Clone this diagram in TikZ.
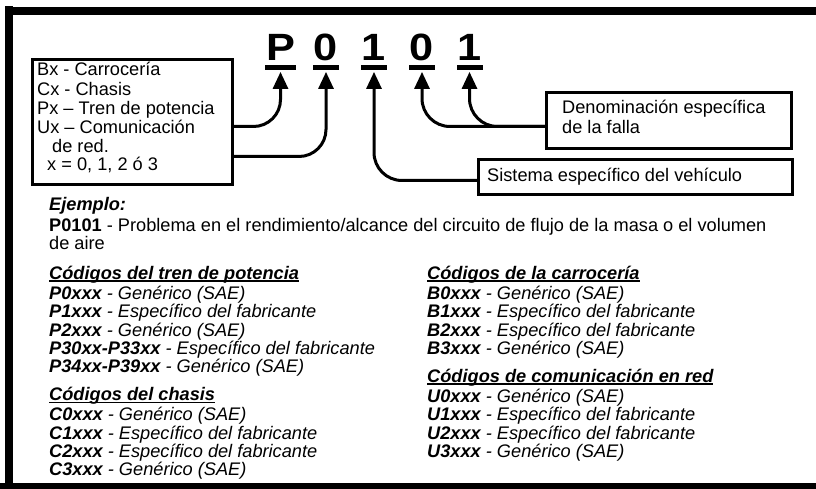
\documentclass[tikz,border=0pt]{standalone}
\usepackage{fontspec}
\setmainfont{Liberation Sans}
\newfontfamily\bigfont{Liberation Sans}[FakeStretch=1.14]
\usetikzlibrary{arrows.meta}
\newcommand\myul[1]{\setbox0\hbox{#1}\rlap{\rule[-2.8pt]{\wd0}{1.6pt}}\box0}
\newcommand\bi[1]{{\bfseries\itshape #1}}
\tikzset{
  box/.style={draw, line width=3pt, inner sep=0pt, anchor=north west},
  conn/.style={line width=3pt, -{Triangle[length=17pt,width=15pt]}},
  lbl/.style={inner sep=0pt, anchor=base west, font=\fontsize{18.2}{18.5}\selectfont},
  big/.style={inner sep=0pt, anchor=base, font=\bigfont\fontsize{38}{40}\selectfont\bfseries},
  uline/.style={fill, inner sep=0pt, minimum height=5pt, anchor=north},
}
\begin{document}
\begin{tikzpicture}[x=1pt,y=-1pt]
\useasboundingbox (0,0) rectangle (816,489);
% frame
\fill (5,6) rectangle (13,489);
\fill (5,7) rectangle (816,15);
\fill (0,483) rectangle (816,489);
% big code
\node[big] (lP) at (280.5,60.5) {P};
\node[big] (l0a) at (326,60.5) {0};
\node[big] (l1a) at (374,60.5) {1};
\node[big] (l0b) at (422,60.5) {0};
\node[big] (l1b) at (469.5,60.5) {1};
\node[uline, minimum width=31pt] (uP) at (280.5,64.5) {};
\node[uline, minimum width=26pt] (u0a) at (326,64.5) {};
\node[uline, minimum width=26pt] (u1a) at (374,64.5) {};
\node[uline, minimum width=26pt] (u0b) at (422,64.5) {};
\node[uline, minimum width=26pt] (u1b) at (469.5,64.5) {};
% boxes
\node[box, minimum width=200pt, minimum height=125pt] (cat) at (31,58) {};
\node[box, minimum width=245pt, minimum height=56pt] (fal) at (545,91) {};
\node[box, minimum width=314pt, minimum height=35pt] (sis) at (477,158) {};
% box texts
\node[lbl] (c1) at (37,76) {Bx - Carrocería};
\node[lbl] (c2) at (37,95.5) {Cx - Chasis};
\node[lbl] (c3) at (37,115) {Px – Tren de potencia};
\node[lbl] (c4) at (37,134) {Ux – Comunicación};
\node[lbl] (c5) at (52,153) {de red.};
\node[lbl] (c6) at (47,171) {x = 0, 1, 2 ó 3};
\node[lbl] (f1) at (562,114) {Denominación específica};
\node[lbl] (f2) at (562,134) {de la falla};
\node[lbl] (s1) at (487,182) {Sistema específico del vehículo};
% connectors
\draw[conn, rounded corners=27pt] ([yshift=-4.5pt]cat.east) -| ([yshift=-2pt]uP.south);
\draw[conn, rounded corners=27pt] ([yshift=-34.5pt]cat.east) -| ([yshift=-2pt]u0a.south);
\draw[conn, rounded corners=28pt] ([yshift=-3.5pt]sis.west) -| ([yshift=-2pt]u1a.south);
\draw[conn, rounded corners=28pt] ([yshift=-6pt]fal.west) -| ([yshift=-2pt]u0b.south);
\draw[conn, rounded corners=28pt] ([yshift=-6pt]fal.west) -| ([yshift=-2pt]u1b.south);
% example
\node[lbl] (e1) at (49,211) {\bi{Ejemplo:}};
\node[lbl] (e2) at (49,231) {\textbf{P0101} - Problema en el rendimiento/alcance del circuito de flujo de la masa o el volumen};
\node[lbl] (e3) at (49,249) {de aire};
% left column
\node[lbl] (h1) at (49,279) {\myul{\bi{Códigos del tren de potencia}}};
\node[lbl] (p0) at (49,299) {\bi{P0xxx} \textit{- Genérico (SAE)}};
\node[lbl] (p1) at (49,317.5) {\bi{P1xxx} \textit{- Específico del fabricante}};
\node[lbl] (p2) at (49,336) {\bi{P2xxx} \textit{- Genérico (SAE)}};
\node[lbl] (p3) at (49,354) {\bi{P30xx-P33xx} \textit{- Específico del fabricante}};
\node[lbl] (p4) at (49,372.5) {\bi{P34xx-P39xx} \textit{- Genérico (SAE)}};
\node[lbl] (h2) at (49,400.5) {\myul{\bi{Códigos del chasis}}};
\node[lbl] (k0) at (49,420.5) {\bi{C0xxx} \textit{- Genérico (SAE)}};
\node[lbl] (k1) at (49,439) {\bi{C1xxx} \textit{- Específico del fabricante}};
\node[lbl] (k2) at (49,457) {\bi{C2xxx} \textit{- Específico del fabricante}};
\node[lbl] (k3) at (49,475.5) {\bi{C3xxx} \textit{- Genérico (SAE)}};
% right column
\node[lbl] (h3) at (427,279) {\myul{\bi{Códigos de la carrocería}}};
\node[lbl] (b0) at (427,299) {\bi{B0xxx} \textit{- Genérico (SAE)}};
\node[lbl] (b1) at (427,317.5) {\bi{B1xxx} \textit{- Específico del fabricante}};
\node[lbl] (b2) at (427,336) {\bi{B2xxx} \textit{- Específico del fabricante}};
\node[lbl] (b3) at (427,354) {\bi{B3xxx} \textit{- Genérico (SAE)}};
\node[lbl] (h4) at (427,382) {\myul{\bi{Códigos de comunicación en red}}};
\node[lbl] (u0) at (427,402) {\bi{U0xxx} \textit{- Genérico (SAE)}};
\node[lbl] (u1) at (427,420.5) {\bi{U1xxx} \textit{- Específico del fabricante}};
\node[lbl] (u2) at (427,439) {\bi{U2xxx} \textit{- Específico del fabricante}};
\node[lbl] (u3) at (427,457) {\bi{U3xxx} \textit{- Genérico (SAE)}};
\end{tikzpicture}
\end{document}
